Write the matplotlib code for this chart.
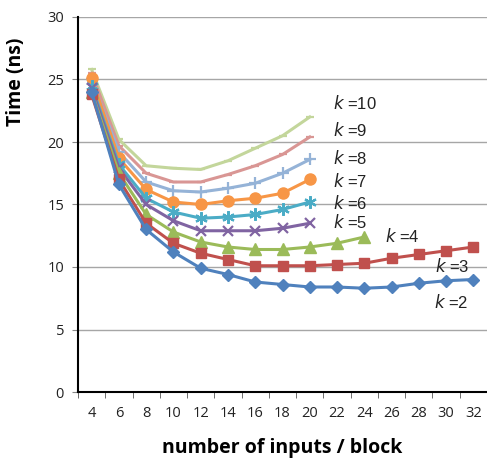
import matplotlib
matplotlib.use("Agg")
import matplotlib.pyplot as plt
import numpy as np

x_labels = ["4", "6", "8", "10", "12", "14", "16", "18", "20", "22", "24", "26", "28", "30", "32"]

k2 = [24.0, 16.6, 13.0, 11.2, 9.9, 9.4, 8.8, 8.6, 8.4, 8.4, 8.3, 8.4, 8.7, 8.9, 9.0]
k3 = [23.8, 17.0, 13.5, 11.9, 11.1, 10.6, 10.1, 10.1, 10.1, 10.2, 10.3, 10.7, 11.0, 11.3, 11.6]
k4 = [24.0, 17.5, 14.2, 12.8, 12.0, 11.6, 11.4, 11.4, 11.6, 11.9, 12.4]
k5 = [24.3, 17.9, 15.0, 13.7, 12.9, 12.9, 12.9, 13.1, 13.5]
k6 = [24.5, 18.2, 15.5, 14.4, 13.9, 14.0, 14.2, 14.6, 15.2]
k7 = [25.1, 18.7, 16.2, 15.2, 15.0, 15.3, 15.5, 15.9, 17.0]
k8 = [25.0, 19.2, 16.8, 16.1, 16.0, 16.3, 16.7, 17.5, 18.6]
k9 = [25.5, 19.7, 17.5, 16.8, 16.8, 17.4, 18.1, 19.0, 20.4]
k10 = [25.8, 20.2, 18.1, 17.9, 17.8, 18.5, 19.5, 20.5, 22.0]

series_names = ["10", "9", "8", "7", "6", "5", "4", "3", "2"]
series_vals = [k10, k9, k8, k7, k6, k5, k4, k3, k2]
colors = ["#C3D69B", "#D99694", "#95B3D7", "#F79646", "#4BACC6", "#8064A2", "#9BBB59", "#C0504D", "#4F81BD"]
markers = ["_", "_", "+", "o", (6, 2, 0), "x", "^", "s", "D"]
msizes = [6, 6, 9, 8, 9, 7, 8, 7, 6]
label_pos = [(8.85, 23.1), (8.85, 21.0), (8.85, 18.7), (8.85, 16.9), (8.85, 15.1),
             (8.85, 13.6), (10.75, 12.5), (12.6, 10.1), (12.55, 7.2)]

fig = plt.figure(figsize=(4.87, 4.61), dpi=100)
ax = fig.add_axes([78/487, 69/461, 409/487, 375/461])

for name, vals, c, m, ms, (lx, ly) in zip(series_names, series_vals, colors, markers, msizes, label_pos):
    xs = np.arange(len(vals))
    mew = 1.6 if m in ["_", "+", "x", (6, 2, 0)] else 1.0
    ax.plot(xs, vals, color=c, lw=2.2, marker=m, markersize=ms, markeredgewidth=mew,
            markerfacecolor=c, markeredgecolor=c, zorder=3)
    ax.text(lx, ly, "$k$ =" + name, fontsize=12, family="Liberation Sans",
            ha="left", va="center", color="#222222", zorder=4)

ax.set_xlim(-0.5, 14.5)
ax.set_ylim(0, 30)
ax.set_yticks([0, 5, 10, 15, 20, 25, 30])
ax.set_xticks(np.arange(15))
ax.set_xticklabels(x_labels)
ax.set_xticks(np.arange(-0.5, 15, 1), minor=True)
ax.tick_params(axis="x", which="major", length=0, pad=10, labelsize=10.5, labelcolor="#222222")
ax.tick_params(axis="x", which="minor", length=4, color="#555555", direction="out")
ax.tick_params(axis="y", length=4, color="#888888", pad=6, labelsize=10.5, labelcolor="#222222")
for lab in ax.get_xticklabels() + ax.get_yticklabels():
    lab.set_family("Open Sans")

ax.grid(axis="y", color="#A6A6A6", lw=1.0, zorder=0)
ax.spines["top"].set_visible(False)
ax.spines["right"].set_visible(False)
ax.spines["left"].set_color("black")
ax.spines["left"].set_linewidth(1.5)
ax.spines["bottom"].set_color("black")
ax.spines["bottom"].set_linewidth(1.5)

ax.set_xlabel("number of inputs / block", fontsize=14, fontweight="bold", family="Open Sans", labelpad=12)
ax.set_ylabel("Time (ns)", fontsize=14, fontweight="bold", family="Open Sans")
ax.yaxis.set_label_coords(-0.127, 0.828)

fig.savefig("out.png", dpi=100)
